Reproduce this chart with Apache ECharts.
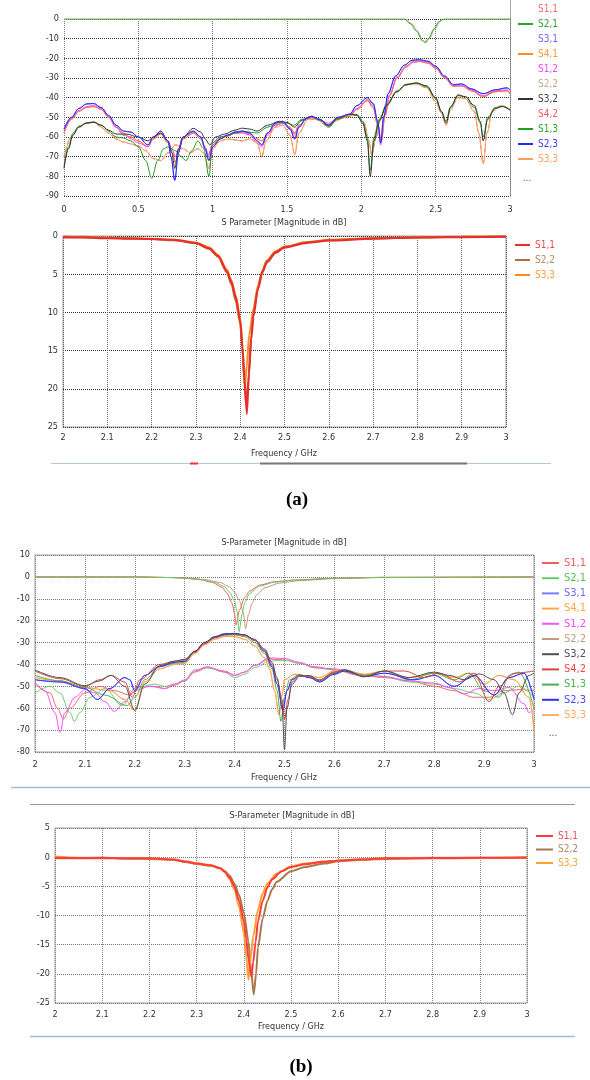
<!DOCTYPE html>
<html>
<head>
<meta charset="utf-8">
<script src="https://cdn.jsdelivr.net/npm/echarts@6/dist/echarts.min.js"></script>
<style>
  html, body { margin: 0; padding: 0; background: #fff; }
  #main { width: 590px; height: 1080px; }
</style>
</head>
<body>
<div id="main"></div>
<script>
// ---- (a) top: 0 - 3 GHz, all S-parameters ----
var a1Trans = [[0,0],[1.0,0],[2.0,0],[2.29,0],[2.33,-2.5],[2.37,-6],[2.41,-11],[2.43,-12],[2.45,-10],[2.49,-5],[2.52,-1.5],[2.55,0],[3,0]];
var a1Trans2 = [[0,0],[2.0,0],[2.3,0],[2.34,-2.5],[2.38,-6.5],[2.415,-11],[2.435,-12],[2.455,-10],[2.5,-4.5],[2.53,-1.2],[2.56,0],[3,0]];
var a1Blue = [[0,-56],[0.05,-50],[0.1,-45.5],[0.15,-43.2],[0.2,-43],[0.25,-45],[0.3,-49],[0.35,-54],[0.4,-57],[0.45,-57.5],[0.5,-60],[0.565,-64],[0.6,-60],[0.65,-57],[0.7,-62],[0.72,-70],[0.745,-82],[0.77,-68],[0.8,-60],[0.87,-57],[0.92,-60],[0.95,-66],[0.975,-72],[1.0,-65],[1.05,-61],[1.1,-59],[1.15,-57.5],[1.2,-57],[1.25,-58],[1.3,-62],[1.33,-64],[1.37,-58],[1.42,-53],[1.47,-52],[1.52,-56],[1.552,-61],[1.58,-55],[1.63,-50.5],[1.665,-49.6],[1.72,-51],[1.78,-54],[1.84,-50],[1.92,-48.5],[1.97,-44],[2.04,-40],[2.08,-43],[2.11,-52],[2.13,-63],[2.15,-50],[2.18,-38],[2.23,-29],[2.29,-23.5],[2.34,-21],[2.39,-20.7],[2.45,-21.5],[2.5,-24],[2.56,-29],[2.62,-33.4],[2.675,-33],[2.74,-35.5],[2.82,-38],[2.9,-36],[2.98,-35],[3,-36]];
var a1Red = [[0,-58],[0.05,-51],[0.1,-47],[0.15,-45],[0.2,-44.5],[0.25,-46],[0.3,-50],[0.35,-55],[0.4,-59],[0.45,-60],[0.5,-62],[0.565,-65],[0.6,-61],[0.65,-58.5],[0.7,-63],[0.73,-68],[0.75,-73],[0.77,-67],[0.8,-61],[0.87,-58],[0.92,-61],[0.95,-66],[0.97,-70],[1.0,-64],[1.05,-61],[1.1,-59.5],[1.15,-58],[1.2,-57.5],[1.25,-58.5],[1.3,-61],[1.33,-62],[1.37,-58],[1.42,-54],[1.47,-53],[1.52,-55],[1.552,-58],[1.58,-54],[1.63,-51],[1.665,-50.2],[1.72,-51.5],[1.78,-54],[1.84,-51],[1.92,-49.5],[1.97,-46],[2.04,-41.5],[2.08,-45],[2.11,-54],[2.135,-62],[2.16,-49],[2.19,-39],[2.24,-30],[2.3,-24.5],[2.35,-22],[2.39,-21.6],[2.45,-22.5],[2.5,-25],[2.56,-30],[2.62,-34.2],[2.675,-34],[2.74,-36.5],[2.82,-39.5],[2.9,-37],[2.98,-36.5],[3,-38]];
var a1Pink = [[0,-57],[0.05,-50.5],[0.1,-46.5],[0.15,-44.5],[0.2,-44],[0.25,-45.5],[0.3,-49.5],[0.35,-55],[0.4,-58],[0.45,-61],[0.5,-63],[0.565,-65],[0.6,-60],[0.65,-58],[0.7,-62],[0.73,-67],[0.75,-70],[0.77,-66],[0.8,-60],[0.87,-57.5],[0.92,-60],[0.95,-65],[0.97,-69],[1.0,-63],[1.05,-60],[1.1,-59],[1.15,-58],[1.2,-58],[1.25,-59],[1.3,-63],[1.33,-65],[1.37,-59],[1.42,-54],[1.47,-53],[1.52,-55.5],[1.552,-59],[1.58,-54.5],[1.63,-51],[1.665,-50],[1.72,-51.5],[1.78,-53],[1.84,-50.5],[1.92,-49],[1.97,-45.5],[2.04,-41],[2.08,-44],[2.11,-53],[2.13,-64],[2.155,-49],[2.19,-38.5],[2.24,-29.5],[2.3,-24],[2.35,-21.5],[2.39,-21.2],[2.45,-22],[2.5,-24.5],[2.56,-29.5],[2.62,-34],[2.675,-33.8],[2.74,-36],[2.82,-39],[2.9,-36.5],[2.98,-36],[3,-37.5]];
var a1Black = [[0,-76],[0.03,-66],[0.06,-59],[0.1,-55],[0.15,-53],[0.2,-52.5],[0.25,-54],[0.3,-56.5],[0.35,-58.5],[0.42,-58.5],[0.5,-60],[0.565,-62],[0.6,-60],[0.65,-58],[0.7,-62],[0.725,-68],[0.745,-76],[0.77,-66],[0.8,-60],[0.87,-55.6],[0.92,-57.5],[0.95,-61],[0.98,-64],[1.02,-60],[1.08,-58.5],[1.15,-56.5],[1.2,-55.5],[1.25,-56],[1.3,-57],[1.37,-54],[1.45,-52],[1.5,-52.6],[1.55,-55],[1.6,-51.5],[1.665,-49.6],[1.72,-51],[1.78,-54.5],[1.84,-50.5],[1.92,-48.3],[1.97,-49],[2.01,-53],[2.04,-62],[2.06,-80],[2.085,-62],[2.12,-52],[2.17,-44],[2.24,-37],[2.3,-33.5],[2.37,-32.5],[2.44,-34],[2.5,-40],[2.54,-47],[2.57,-53],[2.6,-45],[2.65,-38.6],[2.7,-39.5],[2.76,-44],[2.8,-52],[2.82,-62],[2.85,-51],[2.9,-45.5],[2.95,-44.5],[3,-46.5]];
var a1Green = [[0,-75],[0.03,-65],[0.06,-58],[0.1,-54.5],[0.15,-52.8],[0.2,-52.3],[0.25,-54],[0.3,-57],[0.35,-60],[0.4,-60.5],[0.45,-62],[0.5,-65],[0.55,-72],[0.59,-81],[0.63,-72],[0.67,-66],[0.7,-65],[0.75,-67],[0.79,-70],[0.82,-72],[0.86,-67],[0.9,-62],[0.94,-66],[0.975,-80],[1.0,-63],[1.05,-60],[1.1,-59.5],[1.15,-58],[1.2,-57],[1.25,-57.5],[1.3,-58],[1.37,-55],[1.45,-52.5],[1.5,-53],[1.55,-54],[1.6,-51],[1.665,-49.3],[1.72,-51.5],[1.78,-55],[1.84,-51],[1.92,-48.5],[1.97,-48.5],[2.01,-52],[2.04,-60],[2.06,-77],[2.085,-60],[2.12,-51],[2.17,-43.5],[2.24,-36.5],[2.3,-33.2],[2.37,-32.5],[2.44,-34.5],[2.5,-40.5],[2.54,-47.5],[2.57,-52],[2.6,-44.5],[2.65,-39],[2.7,-39.5],[2.76,-45],[2.8,-53],[2.82,-60],[2.85,-50],[2.9,-45],[2.95,-44.5],[3,-46]];
var a1Salmon = [[0,-70],[0.05,-60],[0.1,-55],[0.15,-53],[0.2,-52.5],[0.25,-55],[0.3,-58],[0.35,-61],[0.4,-62.5],[0.45,-63.5],[0.5,-64.5],[0.55,-67],[0.6,-71],[0.65,-72],[0.7,-68],[0.75,-64],[0.8,-66],[0.85,-68],[0.9,-66],[0.94,-68],[0.975,-76],[1.0,-66],[1.05,-62],[1.1,-61],[1.15,-61.5],[1.2,-62],[1.25,-61],[1.3,-63],[1.33,-70],[1.36,-62],[1.42,-55],[1.47,-54],[1.52,-59],[1.552,-69],[1.58,-58],[1.64,-51],[1.7,-51],[1.76,-54],[1.82,-52],[1.9,-49],[1.97,-49],[2.02,-53],[2.05,-62],[2.07,-69],[2.1,-60],[2.13,-50],[2.17,-43],[2.24,-37],[2.3,-33.5],[2.37,-33],[2.44,-35],[2.5,-42],[2.54,-48],[2.57,-54],[2.6,-46],[2.65,-40],[2.7,-40.5],[2.76,-47],[2.79,-58],[2.82,-73.5],[2.845,-58],[2.88,-47],[2.94,-44],[3,-46]];

// ---- (a) bottom: reflection, 2 - 3 GHz ----
var a2S11 = [[2,-0.2],[2.05,-0.2],[2.1,-0.3],[2.15,-0.35],[2.2,-0.4],[2.25,-0.5],[2.3,-0.9],[2.33,-1.6],[2.35,-2.6],[2.37,-4.6],[2.38,-6],[2.39,-8],[2.4,-11],[2.405,-14.5],[2.41,-19],[2.415,-23.3],[2.42,-18],[2.425,-13.5],[2.43,-10.5],[2.44,-7],[2.45,-4.8],[2.46,-3.5],[2.48,-2.2],[2.5,-1.5],[2.55,-0.9],[2.6,-0.6],[2.7,-0.35],[2.8,-0.2],[2.9,-0.15],[3,-0.1]];
var a2S22 = [[2,-0.1],[2.05,-0.15],[2.1,-0.25],[2.15,-0.3],[2.2,-0.4],[2.25,-0.55],[2.3,-0.95],[2.33,-1.7],[2.35,-2.7],[2.37,-4.8],[2.38,-6.3],[2.39,-8.5],[2.4,-11.5],[2.405,-15],[2.41,-19.5],[2.413,-22],[2.418,-19],[2.425,-13],[2.43,-10],[2.44,-6.8],[2.45,-4.6],[2.46,-3.3],[2.48,-2.1],[2.5,-1.4],[2.55,-0.85],[2.6,-0.55],[2.7,-0.3],[2.8,-0.2],[2.9,-0.1],[3,-0.05]];
var a2S33 = [[2,-0.05],[2.05,-0.1],[2.1,-0.2],[2.15,-0.3],[2.2,-0.35],[2.25,-0.5],[2.3,-0.85],[2.33,-1.5],[2.35,-2.5],[2.37,-4.4],[2.38,-5.8],[2.39,-7.8],[2.4,-10.8],[2.405,-14],[2.41,-20],[2.415,-17],[2.42,-13],[2.43,-9.5],[2.44,-6.5],[2.45,-4.5],[2.46,-3.2],[2.48,-2],[2.5,-1.4],[2.55,-0.8],[2.6,-0.5],[2.7,-0.3],[2.8,-0.15],[2.9,-0.1],[3,-0.05]];

// ---- (b) top: 2 - 3 GHz, all S-parameters ----
var b1S11 = [[2,0],[2.2,0],[2.27,-0.3],[2.3,-0.6],[2.33,-1.2],[2.355,-2.5],[2.375,-4.8],[2.385,-7.5],[2.395,-12],[2.4,-17],[2.403,-22],[2.41,-15],[2.42,-9.5],[2.43,-6.5],[2.45,-3.8],[2.48,-2.2],[2.52,-1.4],[2.6,-0.6],[2.7,-0.2],[3,0]];
var b1S21 = [[2,0],[2.2,0],[2.27,-0.3],[2.3,-0.6],[2.33,-1.2],[2.36,-2.5],[2.38,-4.5],[2.39,-7],[2.4,-11],[2.405,-16],[2.409,-25],[2.415,-17],[2.42,-12],[2.43,-7.5],[2.45,-4.2],[2.48,-2.4],[2.52,-1.5],[2.6,-0.7],[2.7,-0.2],[3,0]];
var b1S22 = [[2,0],[2.2,0],[2.28,-0.3],[2.31,-0.6],[2.34,-1.2],[2.37,-2.5],[2.39,-4.5],[2.4,-7],[2.41,-11],[2.417,-16],[2.422,-23.7],[2.428,-17],[2.435,-12],[2.445,-8],[2.46,-5],[2.49,-2.8],[2.53,-1.7],[2.6,-0.8],[2.7,-0.3],[3,0]];
var b1Black = [[2,-42.5],[2.05,-46],[2.1,-49.7],[2.13,-47.5],[2.152,-45],[2.18,-50],[2.2,-61],[2.22,-49],[2.25,-40.6],[2.28,-38.5],[2.3,-37.6],[2.32,-34],[2.34,-30],[2.36,-27.5],[2.38,-26.3],[2.4,-26],[2.42,-26.5],[2.44,-28.5],[2.46,-33],[2.475,-39],[2.485,-46],[2.495,-58],[2.5,-79],[2.505,-60],[2.515,-49],[2.53,-45.5],[2.55,-45],[2.57,-47.5],[2.6,-44],[2.62,-42.5],[2.66,-45.7],[2.7,-43],[2.75,-46],[2.8,-43.5],[2.83,-45],[2.86,-47],[2.89,-44.3],[2.92,-47],[2.94,-53],[2.957,-63],[2.97,-53],[2.99,-45],[3,-44]];
var b1Red = [[2,-43],[2.05,-46.5],[2.1,-50],[2.13,-47],[2.152,-45],[2.18,-48],[2.195,-55],[2.21,-47],[2.25,-40],[2.28,-38.5],[2.3,-38],[2.32,-34.5],[2.34,-30.5],[2.36,-27.8],[2.38,-26.5],[2.4,-26.2],[2.42,-26.8],[2.44,-29],[2.46,-33.5],[2.475,-40],[2.485,-47],[2.495,-56],[2.5,-65],[2.507,-56],[2.515,-48],[2.53,-45],[2.55,-45.5],[2.57,-47],[2.6,-43.5],[2.62,-42.5],[2.66,-45.5],[2.7,-43],[2.74,-43],[2.78,-46],[2.81,-44],[2.85,-48],[2.88,-44],[2.91,-57],[2.93,-50],[2.96,-44],[3,-43]];
var b1Blue = [[2,-47],[2.05,-48],[2.1,-51],[2.125,-56],[2.15,-51],[2.18,-46],[2.19,-47],[2.2,-52],[2.22,-45],[2.25,-41],[2.28,-39],[2.3,-38.5],[2.32,-34],[2.34,-30],[2.36,-27.3],[2.38,-26],[2.4,-25.8],[2.42,-26.5],[2.44,-29],[2.46,-34],[2.475,-41],[2.485,-49],[2.497,-61],[2.505,-52],[2.515,-47],[2.53,-45],[2.55,-46],[2.57,-48],[2.6,-44.5],[2.62,-43],[2.66,-45.5],[2.7,-44],[2.76,-47],[2.8,-45],[2.84,-50],[2.88,-45],[2.92,-54],[2.95,-46],[2.98,-44],[3,-56]];
var b1Green = [[2,-45],[2.05,-47.5],[2.1,-50.5],[2.14,-54],[2.185,-58.8],[2.2,-55],[2.22,-47],[2.25,-41],[2.28,-39.5],[2.3,-39],[2.32,-34.5],[2.34,-30.5],[2.36,-27.8],[2.38,-26.6],[2.4,-26.5],[2.42,-27.3],[2.44,-30],[2.46,-35],[2.475,-42],[2.485,-52],[2.493,-66],[2.5,-55],[2.51,-47],[2.53,-44.5],[2.55,-46],[2.57,-47],[2.6,-43.5],[2.62,-42.5],[2.66,-45],[2.7,-43],[2.75,-47],[2.8,-44],[2.84,-47],[2.87,-44],[2.9,-52],[2.93,-55],[2.95,-45],[2.97,-43.5],[3,-60]];
var b1Orange = [[2,-46],[2.05,-47.5],[2.1,-50.5],[2.15,-52],[2.18,-56],[2.2,-61],[2.22,-48],[2.25,-42],[2.28,-40],[2.3,-39.5],[2.32,-35],[2.34,-31],[2.36,-28.5],[2.38,-27.2],[2.4,-27.3],[2.42,-28.5],[2.44,-31.5],[2.46,-37],[2.47,-42],[2.48,-52],[2.489,-63],[2.495,-54],[2.5,-47],[2.52,-44.5],[2.55,-45.5],[2.57,-46],[2.6,-43],[2.62,-42.5],[2.66,-44.5],[2.7,-43],[2.75,-46],[2.8,-44],[2.84,-46],[2.87,-44],[2.9,-49],[2.93,-45],[2.96,-47],[2.99,-55],[3,-70]];
var b1Pink = [[2,-48],[2.02,-52],[2.04,-62],[2.05,-71],[2.06,-62],[2.08,-55],[2.1,-51.5],[2.12,-53],[2.14,-57],[2.159,-61.4],[2.18,-57],[2.2,-52],[2.23,-50],[2.26,-51],[2.28,-49],[2.3,-47.4],[2.32,-43],[2.345,-41],[2.38,-43.5],[2.4,-45],[2.42,-43.5],[2.44,-40.5],[2.47,-37],[2.5,-37.3],[2.53,-39],[2.56,-41.5],[2.6,-42],[2.65,-44.5],[2.7,-45.5],[2.75,-47.5],[2.8,-48.5],[2.83,-50.5],[2.86,-53.5],[2.89,-51],[2.92,-52],[2.95,-50.5],[2.98,-58],[2.99,-62],[3,-60]];
var b1LowRed = [[2,-49],[2.03,-53],[2.045,-60],[2.057,-65],[2.07,-60],[2.1,-53],[2.13,-50],[2.16,-52],[2.19,-54],[2.21,-50],[2.24,-50],[2.26,-51],[2.28,-49.5],[2.3,-47.5],[2.32,-43.5],[2.345,-41.5],[2.38,-43],[2.4,-45],[2.42,-43.5],[2.44,-40.5],[2.47,-37.5],[2.5,-38],[2.53,-39.5],[2.56,-41],[2.6,-42.5],[2.65,-45],[2.7,-46],[2.75,-47.5],[2.8,-50],[2.84,-52],[2.88,-55],[2.91,-55],[2.94,-52],[2.97,-51.5],[3,-52]];
var b1LowGreen = [[2,-53],[2.03,-50],[2.05,-53],[2.07,-62],[2.079,-66],[2.09,-62],[2.11,-55],[2.14,-51],[2.175,-58.8],[2.2,-51],[2.24,-49],[2.26,-50],[2.28,-49],[2.3,-47],[2.32,-42.5],[2.345,-41.5],[2.38,-43.5],[2.4,-46],[2.42,-44.5],[2.44,-41.5],[2.47,-38.5],[2.5,-38],[2.53,-39.5],[2.56,-41.5],[2.6,-42.5],[2.65,-44.5],[2.7,-45.5],[2.75,-48],[2.8,-49],[2.84,-51],[2.88,-53],[2.91,-56],[2.94,-53],[2.97,-50],[3,-55]];

// ---- (b) bottom: reflection, 2 - 3 GHz ----
var b2S11 = [[2,-0.1],[2.05,-0.15],[2.1,-0.1],[2.15,-0.2],[2.2,-0.2],[2.25,-0.4],[2.28,-0.8],[2.3,-1.1],[2.33,-1.4],[2.35,-1.9],[2.36,-2.5],[2.37,-3.5],[2.38,-5],[2.39,-7.5],[2.4,-11],[2.405,-14],[2.41,-17.5],[2.416,-20.5],[2.42,-18],[2.425,-14.5],[2.43,-11],[2.44,-7.5],[2.45,-5.2],[2.46,-3.8],[2.48,-2.4],[2.5,-1.7],[2.53,-1.2],[2.57,-0.8],[2.6,-0.6],[2.65,-0.4],[2.7,-0.2],[2.8,-0.15],[2.9,-0.1],[3,-0.05]];
var b2S22 = [[2,-0.2],[2.05,-0.2],[2.1,-0.15],[2.15,-0.25],[2.2,-0.3],[2.25,-0.45],[2.28,-0.85],[2.3,-1.15],[2.33,-1.45],[2.35,-1.9],[2.36,-2.4],[2.37,-3.2],[2.38,-4.5],[2.39,-6.5],[2.4,-9.5],[2.41,-14.5],[2.415,-19],[2.421,-23.5],[2.426,-20],[2.43,-15.5],[2.44,-10.5],[2.45,-7.5],[2.46,-5.5],[2.47,-4.2],[2.5,-2.4],[2.53,-1.7],[2.57,-1.1],[2.6,-0.7],[2.65,-0.45],[2.7,-0.3],[2.8,-0.2],[2.9,-0.15],[3,-0.1]];
var b2S33 = [[2,0.1],[2.05,-0.1],[2.1,-0.1],[2.15,-0.15],[2.2,-0.2],[2.25,-0.4],[2.28,-0.75],[2.3,-1.05],[2.33,-1.35],[2.35,-1.9],[2.36,-2.6],[2.37,-3.8],[2.38,-5.5],[2.39,-8.5],[2.4,-13],[2.405,-17],[2.41,-21],[2.415,-17],[2.42,-13.5],[2.43,-9],[2.44,-6.2],[2.45,-4.5],[2.47,-2.8],[2.5,-1.6],[2.53,-1.1],[2.57,-0.75],[2.6,-0.55],[2.65,-0.35],[2.7,-0.2],[2.8,-0.1],[2.9,-0.1],[3,-0.05]];

var font = "'DejaVu Sans Condensed', 'Liberation Sans Narrow', 'DejaVu Sans', sans-serif";

function line(g, name, data, color, width, dash, smooth) {
    return {
        type: 'line', name: name, xAxisIndex: g, yAxisIndex: g, data: data,
        symbol: 'none', showSymbol: false, animation: false,
        smooth: smooth || 0, smoothMonotone: 'x',
        lineStyle: { color: color, width: width, type: dash || 'solid' },
        itemStyle: { color: color }
    };
}

// legend entries: [series name, text colour, hide icon]
function legendItems(list) {
    return list.map(function (it) {
        var d = { name: it[0], textStyle: { color: it[1] } };
        if (it[2]) d.itemStyle = { color: 'rgba(0,0,0,0)' };
        return d;
    });
}

function legend(left, top, gap, itemWidth, size, items) {
    return {
        orient: 'vertical', left: left, top: top, itemGap: gap,
        itemWidth: itemWidth, itemHeight: 2, icon: 'rect', padding: 0,
        selectedMode: false,
        formatter: function (n) { return n.split('|')[1]; },
        textStyle: { fontFamily: font, fontSize: size, lineHeight: 12 },
        data: legendItems(items)
    };
}

function xAxis(g, min, max, interval, margin, splitColor) {
    return {
        type: 'value', gridIndex: g, min: min, max: max, interval: interval,
        axisLine: { show: false }, axisTick: { show: false },
        axisLabel: { fontFamily: font, fontSize: 9, color: '#333', margin: margin },
        splitLine: { show: true, lineStyle: { type: 'dotted', color: splitColor, width: 1 } }
    };
}

function yAxis(g, min, max, interval, fmt, splitColor) {
    return {
        type: 'value', gridIndex: g, min: min, max: max, interval: interval,
        axisLine: { show: false }, axisTick: { show: false },
        axisLabel: { fontFamily: font, fontSize: 9, color: '#333', margin: 5, formatter: fmt },
        splitLine: { show: true, lineStyle: { type: 'dotted', color: splitColor, width: 1 } }
    };
}

function txt(x, y, s, size, extra) {
    var st = { text: s, x: x, y: y, fill: '#333', fontFamily: font, fontSize: size,
               align: 'center', verticalAlign: 'middle' };
    if (extra) for (var k in extra) st[k] = extra[k];
    return { type: 'text', style: st, silent: true };
}

function hline(x1, x2, y, color, w) {
    return { type: 'line', shape: { x1: x1, y1: y, x2: x2, y2: y }, style: { stroke: color, lineWidth: w }, silent: true };
}

var chart = echarts.init(document.getElementById('main'));

var S = 0.35;
var series = [
    // (a) top
    line(0, 'a|S2,2', a1Trans2, '#c9a27e', 1, null, S),
    line(0, 'a|S2,1', a1Trans, '#2aa82a', 1, null, S),
    line(0, 'a|S1,1', a1Red, '#f04848', 1, null, S),
    line(0, 'a|S4,1', a1Red, '#ff8c1a', 1, 'dashed', S),
    line(0, 'a|S1,2', a1Pink, '#ff44ff', 1, null, S),
    line(0, 'a|S4,2', a1Salmon, '#ff5a5a', 1, 'dashed', S),
    line(0, 'a|S3,3', a1Salmon, '#ffa060', 1, null, S),
    line(0, 'a|S1,3', a1Green, '#1f9e1f', 1, null, S),
    line(0, 'a|S3,2', a1Black, '#333333', 1, null, S),
    line(0, 'a|S3,1', a1Blue, '#6a6aff', 1, null, S),
    line(0, 'a|S2,3', a1Blue, '#2a2aee', 1, null, S),
    // (a) bottom
    line(1, 'A|S3,3', a2S33, '#ff8a1a', 2, null, 0.25),
    line(1, 'A|S2,2', a2S22, '#b0703a', 2, null, 0.25),
    line(1, 'A|S1,1', a2S11, '#ee2a2a', 2, null, 0.25),
    // (b) top
    line(2, 'b|S1,4', b1LowRed, '#f06a6a', 1, null, S),
    line(2, 'b|S2,4', b1LowGreen, '#6fcf6f', 1, null, S),
    line(2, 'b|S1,2', b1Pink, '#ff4dff', 1, null, S),
    line(2, 'b|S3,3', b1Orange, '#ffb070', 1, null, S),
    line(2, 'b|S4,1', b1Orange, '#ffa54a', 1, null, S),
    line(2, 'b|S1,3', b1Green, '#4cb04c', 1, null, S),
    line(2, 'b|S3,1', b1Blue, '#7a7aff', 1, null, S),
    line(2, 'b|S2,3', b1Blue, '#2f2fff', 1, null, S),
    line(2, 'b|S4,2', b1Red, '#e04040', 1, null, S),
    line(2, 'b|S3,2', b1Black, '#505050', 1, null, S),
    line(2, 'b|S2,2', b1S22, '#c49a7a', 1, null, 0.25),
    line(2, 'b|S1,1', b1S11, '#f06060', 1, null, 0.25),
    line(2, 'b|S2,1', b1S21, '#66cc66', 1, null, 0.25),
    // (b) bottom
    line(3, 'B|S2,2', b2S22, '#a8784a', 2, null, 0.25),
    line(3, 'B|S3,3', b2S33, '#ffa030', 2, null, 0.25),
    line(3, 'B|S1,1', b2S11, '#ff3c3c', 2, null, 0.25)
];

var option = {
    backgroundColor: '#ffffff',
    animation: false,
    grid: [
        { left: 64, top: 19, width: 446, height: 177, show: false },
        { left: 63, top: 236, width: 443, height: 191, show: true, borderColor: '#a0a0a0', borderWidth: 1 },
        { left: 35, top: 555, width: 499, height: 197, show: true, borderColor: '#a0a0a0', borderWidth: 1 },
        { left: 55, top: 828, width: 472, height: 175, show: true, borderColor: '#a0a0a0', borderWidth: 1 }
    ],
    xAxis: [
        xAxis(0, 0, 3, 0.5, 9, '#777'),
        xAxis(1, 2, 3, 0.1, 6, '#666'),
        xAxis(2, 2, 3, 0.1, 8, '#888'),
        xAxis(3, 2, 3, 0.1, 7, '#888')
    ],
    yAxis: [
        yAxis(0, -90, 0, 10, null, '#333'),
        yAxis(1, -25, 0, 5, function (v) { return String(Math.abs(v)); }, '#333'),
        yAxis(2, -80, 10, 10, null, '#777'),
        yAxis(3, -25, 5, 5, null, '#777')
    ],
    legend: [
        legend(518, 3, 3, 15, 10, [
            ['a|S1,1', '#ff6a6a', true], ['a|S2,1', '#2aa82a'], ['a|S3,1', '#6a6aff', true],
            ['a|S4,1', '#ff9a3a'], ['a|S1,2', '#ff44ff', true], ['a|S2,2', '#c9ab90', true],
            ['a|S3,2', '#444'], ['a|S4,2', '#ff5a5a', true], ['a|S1,3', '#2aa82a'],
            ['a|S2,3', '#3a3aff'], ['a|S3,3', '#ffa060']
        ]),
        legend(515, 239, 3, 15, 10, [
            ['A|S1,1', '#ee4a4a'], ['A|S2,2', '#b88a60'], ['A|S3,3', '#ff9a3a']
        ]),
        legend(542, 557, 3.2, 17, 11, [
            ['b|S1,1', '#f05a5a'], ['b|S2,1', '#55bb55'], ['b|S3,1', '#6a6aff'],
            ['b|S4,1', '#ffa54a'], ['b|S1,2', '#ff44ff'], ['b|S2,2', '#c49a7a'],
            ['b|S3,2', '#505050'], ['b|S4,2', '#f04a4a'], ['b|S1,3', '#4cb04c'],
            ['b|S2,3', '#4a4aff'], ['b|S3,3', '#ffa860']
        ]),
        legend(536, 830, 1.5, 17, 10, [
            ['B|S1,1', '#ff4a4a'], ['B|S2,2', '#b08a60'], ['B|S3,3', '#ffa040']
        ])
    ],
    graphic: [
        { type: 'line', shape: { x1: 510.5, y1: 0, x2: 510.5, y2: 197 }, style: { stroke: '#aaa', lineWidth: 1 }, silent: true },
        txt(527, 178, '...', 10, { fill: '#555' }),
        txt(284, 223, 'S Parameter [Magnitude in dB]', 9),
        txt(284, 454, 'Frequency / GHz', 9),
        hline(51, 551, 463.5, '#b4c6dc', 1),
        hline(260, 467, 463.5, '#777', 2),
        hline(190, 198, 463.5, '#e33', 2),
        txt(297, 500, '(a)', 19, { fontFamily: "'Liberation Serif', 'DejaVu Serif', serif", fontWeight: 'bold', fill: '#000' }),
        txt(284, 543, 'S-Parameter [Magnitude in dB]', 9),
        txt(284, 778, 'Frequency / GHz', 9),
        txt(553, 733, '...', 10, { fill: '#555' }),
        hline(11, 590, 787.5, '#9dbde2', 1.5),
        hline(30, 575, 804.5, '#999', 1),
        txt(292, 816, 'S-Parameter [Magnitude in dB]', 9),
        txt(291, 1027, 'Frequency / GHz', 9),
        hline(30, 575, 1036.5, '#9dbde2', 1.5),
        txt(301, 1067, '(b)', 19, { fontFamily: "'Liberation Serif', 'DejaVu Serif', serif", fontWeight: 'bold', fill: '#000' })
    ],
    series: series
};

chart.setOption(option);
</script>
</body>
</html>
